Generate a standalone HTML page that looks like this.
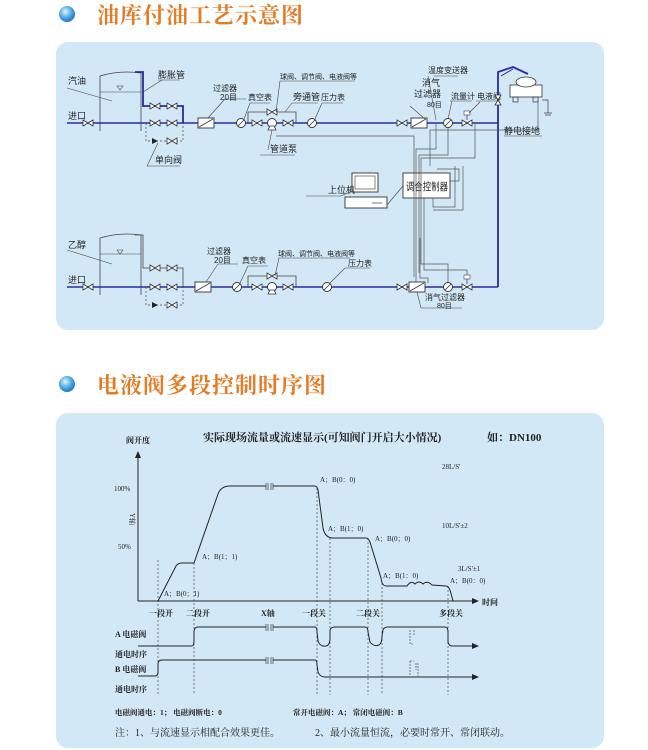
<!DOCTYPE html>
<html><head><meta charset="utf-8"><style>
html,body{margin:0;padding:0;background:#fff;}
body{width:648px;height:750px;overflow:hidden;position:relative;font-family:"Liberation Serif","Noto Serif CJK SC",serif;}
svg{position:absolute;left:0;top:0;}
</style></head><body>
<svg width="648" height="750" viewBox="0 0 648 750" xmlns="http://www.w3.org/2000/svg">
<defs>
<radialGradient id="dot" cx="40%" cy="35%" r="65%"><stop offset="0" stop-color="#e8f6ff"/><stop offset="0.5" stop-color="#5fb4ea"/><stop offset="1" stop-color="#1a78c4"/></radialGradient>
<g id="v"><path d="M-5,-3 L5,3 L5,-3 L-5,3 Z" fill="#fff" stroke="#333" stroke-width="0.8"/></g>
<g id="g"><circle r="4.5" fill="#fff" stroke="#333" stroke-width="0.9"/><line x1="-3" y1="3" x2="3" y2="-3" stroke="#333" stroke-width="0.8"/></g>
<g id="f"><rect x="-8" y="-5" width="16" height="10" fill="#fff" stroke="#333" stroke-width="0.9"/><line x1="-7" y1="4" x2="7" y2="-4" stroke="#333" stroke-width="0.8"/></g>
<g id="p"><circle r="4.5" fill="#fff" stroke="#333" stroke-width="0.9"/><path d="M-4,7 L4,7 L2,3 L-2,3 Z" fill="#fff" stroke="#333" stroke-width="0.8"/></g>
</defs>
<circle cx="67" cy="14" r="8" fill="url(#dot)"/>
<text x="97" y="23" font-size="22" font-weight="bold" fill="#e47b25" letter-spacing="1">油库付油工艺示意图</text>
<circle cx="67" cy="384" r="8" fill="url(#dot)"/>
<text x="97" y="393" font-size="22" font-weight="bold" fill="#e47b25" letter-spacing="1">电液阀多段控制时序图</text>
<rect x="56" y="42" width="548" height="288" rx="12" fill="#d3e8f7"/>
<rect x="56" y="413" width="548" height="335" rx="12" fill="#d3e8f7"/>

<g font-family="Liberation Sans, Noto Sans CJK SC, sans-serif" font-size="8" fill="#222">
<path d="M100,131 L100,76 Q120,70 141,73 L141,131" fill="none" stroke="#444" stroke-width="0.8"/>
<line x1="100" y1="92" x2="141" y2="92" stroke="#444" stroke-width="0.6"/>
<path d="M117,86 L123,86 L120,90 Z" fill="none" stroke="#444" stroke-width="0.6"/>
<line x1="67" y1="88" x2="112" y2="101" stroke="#444" stroke-width="0.6"/>
<text x="68" y="84" font-size="9">汽油</text>
<text x="68" y="119" font-size="9">进口</text>
<line x1="67" y1="123" x2="498" y2="123" stroke="#2a2aa0" stroke-width="1.6"/>
<path d="M135,72 L143,72 L143,106 L183,106 L183,123" fill="none" stroke="#2a2aa0" stroke-width="1.8"/>
<use href="#v" x="88" y="123"/><use href="#v" x="155" y="106"/><use href="#v" x="172" y="106"/>
<use href="#v" x="155" y="123"/><use href="#v" x="172" y="123"/>
<path d="M146,123 L146,141 L183,141 L183,123" fill="none" stroke="#444" stroke-width="0.7" stroke-dasharray="2,2"/>
<use href="#v" x="172" y="141"/><path d="M152,138 L158,141 L152,144 Z" fill="#222"/>
<line x1="143" y1="92" x2="162" y2="80" stroke="#444" stroke-width="0.6"/><line x1="158" y1="80" x2="180" y2="80" stroke="#444" stroke-width="0.6"/>
<text x="158" y="78" font-size="9">膨胀管</text>
<line x1="147" y1="166" x2="158" y2="143" stroke="#444" stroke-width="0.6"/><line x1="147" y1="166" x2="180" y2="166" stroke="#444" stroke-width="0.6"/>
<text x="155" y="163" font-size="9">单向阀</text>
<use href="#f" x="206" y="123"/>
<line x1="208" y1="118" x2="225" y2="99" stroke="#444" stroke-width="0.6"/><line x1="225" y1="99" x2="246" y2="99" stroke="#444" stroke-width="0.6"/>
<text x="213" y="91">过滤器</text><text x="220" y="100">20目</text>
<use href="#g" x="241" y="123"/>
<line x1="244" y1="119" x2="250" y2="103" stroke="#444" stroke-width="0.6"/><line x1="250" y1="103" x2="270" y2="103" stroke="#444" stroke-width="0.6"/>
<text x="248" y="100">真空表</text>
<path d="M248,123 L248,112 L296,112 L296,123" fill="none" stroke="#444" stroke-width="0.8"/>
<use href="#v" x="257" y="123"/><use href="#v" x="272" y="112"/><use href="#p" x="272" y="123"/><use href="#v" x="288" y="123"/>
<line x1="276" y1="112" x2="280" y2="81" stroke="#444" stroke-width="0.6"/><line x1="280" y1="81" x2="355" y2="81" stroke="#444" stroke-width="0.6"/>
<text x="280" y="79" font-size="7">球阀、调节阀、电液阀等</text>
<line x1="285" y1="112" x2="292" y2="103" stroke="#444" stroke-width="0.6"/><line x1="292" y1="103" x2="318" y2="103" stroke="#444" stroke-width="0.6"/>
<text x="293" y="100" font-size="9">旁通管</text>
<line x1="268" y1="150" x2="272" y2="130" stroke="#444" stroke-width="0.6"/><line x1="260" y1="155" x2="295" y2="155" stroke="#444" stroke-width="0.6"/>
<text x="270" y="152" font-size="9">管道泵</text>
<use href="#g" x="312" y="123"/>
<line x1="315" y1="119" x2="322" y2="103" stroke="#444" stroke-width="0.6"/><line x1="322" y1="103" x2="343" y2="103" stroke="#444" stroke-width="0.6"/>
<text x="321" y="100">压力表</text>
<use href="#v" x="402" y="123"/><use href="#f" x="419" y="123"/><use href="#g" x="448" y="123"/><use href="#v" x="467" y="123"/>
<line x1="467" y1="120" x2="467" y2="113" stroke="#444" stroke-width="0.8"/><rect x="464" y="111" width="6" height="4" fill="#fff" stroke="#444" stroke-width="0.6"/>
<line x1="425" y1="119" x2="410" y2="106" stroke="#444" stroke-width="0.6"/>
<text x="422" y="86" font-size="9">消气</text><text x="414" y="97" font-size="9">过滤器</text><text x="427" y="107" font-size="7">80目</text>
<line x1="434" y1="76" x2="458" y2="76" stroke="#444" stroke-width="0.6"/><line x1="428" y1="76" x2="436" y2="120" stroke="#444" stroke-width="0.6"/>
<text x="428" y="73">温度变送器</text>
<line x1="450" y1="101" x2="472" y2="101" stroke="#444" stroke-width="0.6"/><line x1="448" y1="119" x2="452" y2="101" stroke="#444" stroke-width="0.6"/>
<text x="451" y="99">流量计</text><text x="477" y="99">电液阀</text><line x1="476" y1="101" x2="500" y2="101" stroke="#444" stroke-width="0.6"/>
<line x1="469" y1="113" x2="480" y2="102" stroke="#444" stroke-width="0.6"/>
<path d="M498,287 L498,72 L513,67 L528,74" fill="none" stroke="#2a2aa0" stroke-width="1.8"/>
<line x1="501" y1="76" x2="513" y2="69" stroke="#2a2aa0" stroke-width="1"/>
<g transform="translate(498,100) rotate(90)"><use href="#v"/></g>
<rect x="510" y="85" width="32" height="12" fill="#fff" stroke="#333" stroke-width="0.8"/>
<ellipse cx="526" cy="82" rx="10" ry="5" fill="#fff" stroke="#333" stroke-width="0.8"/>
<rect x="513" y="97" width="5" height="5" fill="none" stroke="#333" stroke-width="0.7"/><rect x="533" y="97" width="5" height="5" fill="none" stroke="#333" stroke-width="0.7"/>
<path d="M542,100 L548,100 L548,113 M544,113 L552,113 M545,115 L551,115" fill="none" stroke="#444" stroke-width="0.7"/>
<text x="504" y="134" font-size="9">静电接地</text><line x1="504" y1="136" x2="542" y2="136" stroke="#444" stroke-width="0.6"/>
<rect x="403" y="173" width="47" height="25" fill="#fff" stroke="#333" stroke-width="0.9"/>
<text x="406" y="190" font-size="10.5" textLength="42" lengthAdjust="spacingAndGlyphs">调合控制器</text>
<rect x="352" y="173" width="26" height="19" fill="#fff" stroke="#333" stroke-width="0.9"/><rect x="355" y="176" width="20" height="13" fill="none" stroke="#333" stroke-width="0.6"/>
<rect x="345" y="197" width="42" height="11" fill="#fff" stroke="#333" stroke-width="0.9"/><line x1="372" y1="203" x2="382" y2="203" stroke="#333" stroke-width="0.7"/>
<text x="328" y="193" font-size="9">上位机</text><line x1="306" y1="196" x2="341" y2="196" stroke="#444" stroke-width="0.6"/><line x1="341" y1="196" x2="354" y2="190" stroke="#444" stroke-width="0.6"/>
<line x1="387" y1="205" x2="403" y2="186" stroke="#444" stroke-width="0.6"/>
<g fill="none" stroke="#555" stroke-width="0.7">
<path d="M276,136 L414,136 L414,277"/>
<path d="M436,123 L436,149 L416,149 L416,283"/>
<path d="M448,128 L448,155 L419,155 L419,273"/>
<path d="M475,123 L475,158 L421,158 L421,264 L448,264 L448,282"/>
<path d="M538,100 L538,130 L430,130 L430,166"/>
<path d="M455,166 L455,207 L433,207 L433,198"/>
<path d="M463,166 L463,210 L433,210"/>
<path d="M450,181 L459,181 L459,169 L437,169"/>
<path d="M420,238 L420,278 L428,278 L428,283"/>
<path d="M424,198 L424,270 L467,270 L467,280"/>
</g>
<path d="M100,295 L100,238 Q120,232 141,235 L141,295" fill="none" stroke="#444" stroke-width="0.8"/>
<line x1="100" y1="254" x2="141" y2="254" stroke="#444" stroke-width="0.6"/>
<path d="M117,250 L123,250 L120,254 Z" fill="none" stroke="#444" stroke-width="0.6"/>
<line x1="67" y1="250" x2="112" y2="264" stroke="#444" stroke-width="0.6"/>
<text x="68" y="248" font-size="9">乙醇</text>
<text x="68" y="283" font-size="9">进口</text>
<line x1="67" y1="287" x2="498" y2="287" stroke="#2a2aa0" stroke-width="1.6"/>
<path d="M135,235 L143,235 L143,268 L183,268 L183,287" fill="none" stroke="#444" stroke-width="0.8"/>
<use href="#v" x="88" y="287"/><use href="#v" x="155" y="268"/><use href="#v" x="172" y="268"/>
<use href="#v" x="155" y="287"/><use href="#v" x="172" y="287"/>
<path d="M146,287 L146,305 L183,305 L183,287" fill="none" stroke="#444" stroke-width="0.7" stroke-dasharray="2,2"/>
<use href="#v" x="172" y="305"/><path d="M152,302 L158,305 L152,308 Z" fill="#222"/>
<use href="#f" x="203" y="287"/>
<line x1="206" y1="282" x2="218" y2="264" stroke="#444" stroke-width="0.6"/><line x1="218" y1="264" x2="238" y2="264" stroke="#444" stroke-width="0.6"/>
<text x="207" y="254">过滤器</text><text x="214" y="263">20目</text>
<use href="#g" x="237" y="287"/>
<line x1="240" y1="283" x2="248" y2="266" stroke="#444" stroke-width="0.6"/><line x1="248" y1="266" x2="268" y2="266" stroke="#444" stroke-width="0.6"/>
<text x="242" y="263">真空表</text>
<path d="M248,287 L248,276 L296,276 L296,287" fill="none" stroke="#444" stroke-width="0.8"/>
<use href="#v" x="257" y="287"/><use href="#v" x="272" y="276"/><use href="#p" x="272" y="287"/><use href="#v" x="288" y="287"/>
<line x1="275" y1="276" x2="279" y2="258" stroke="#444" stroke-width="0.6"/><line x1="279" y1="258" x2="350" y2="258" stroke="#444" stroke-width="0.6"/>
<text x="278" y="256" font-size="7">球阀、调节阀、电液阀等</text>
<use href="#g" x="327" y="287"/>
<line x1="330" y1="283" x2="345" y2="268" stroke="#444" stroke-width="0.6"/><line x1="345" y1="268" x2="370" y2="268" stroke="#444" stroke-width="0.6"/>
<text x="348" y="266">压力表</text>
<use href="#v" x="402" y="287"/><use href="#f" x="417" y="287"/><use href="#g" x="448" y="287"/><use href="#v" x="467" y="287"/>
<line x1="467" y1="284" x2="467" y2="277" stroke="#444" stroke-width="0.8"/><rect x="464" y="275" width="6" height="4" fill="#fff" stroke="#444" stroke-width="0.6"/>
<line x1="417" y1="292" x2="421" y2="308" stroke="#444" stroke-width="0.6"/><line x1="421" y1="308" x2="462" y2="308" stroke="#444" stroke-width="0.6"/>
<text x="425" y="300" font-size="8">消气过滤器</text><text x="437" y="308" font-size="7">80目</text>
</g>

<g font-family="Liberation Serif, Noto Serif CJK SC, serif" fill="#222">
<text x="203" y="441" font-size="11" font-weight="bold">实际现场流量或流速显示(可知阀门开启大小情况)</text>
<text x="487" y="441" font-size="11" font-weight="bold">如：DN100</text>
<text x="126" y="443" font-size="8" font-weight="bold">阀开度</text>
<line x1="138" y1="601" x2="138" y2="457" stroke="#222" stroke-width="1"/><path d="M135,458 L138,451 L141,458 Z" fill="#222"/>
<line x1="138" y1="601" x2="473" y2="601" stroke="#222" stroke-width="1"/><path d="M472,598 L479,601 L472,604 Z" fill="#222"/>
<text x="482" y="605" font-size="8" font-weight="bold">时间</text>
<text x="114" y="491" font-size="7">100%</text><text x="118" y="549" font-size="7">50%</text>
<text x="130" y="513" font-size="7" transform="rotate(90 130 513)">Y轴</text>
<text x="442" y="469" font-size="7">28L/S'</text><text x="442" y="528" font-size="7">10L/S'±2</text><text x="458" y="571" font-size="7">3L/S'±1</text>
<path d="M158,601 L176,566 Q178,563 182,563 L194,563 L218,494 Q221,486 230,486 L266,486 M273,486 L315,486 Q317,486 318,490 L323,528 Q325,538 333,538 L366,538 Q368,538 370,542 L381,578 Q382,586 386,586 L407,586 Q411,580 415,584 Q419,580 423,584 Q427,580 432,585 L446,586 Q448,586 450,590 L453,601" fill="none" stroke="#222" stroke-width="1"/>
<path d="M266,483 L266,490 M268,483 L268,490 M271,483 L271,490 M273,483 L273,490" stroke="#222" stroke-width="0.6"/>
<g font-size="7">
<text x="164" y="596">A；B(0；1)</text>
<text x="202" y="559">A；B(1；1)</text>
<text x="320" y="482">A；B(0：0)</text>
<text x="328" y="531">A；B(1；0)</text>
<text x="375" y="541">A；B(0；0)</text>
<text x="383" y="578">A；B(1：0)</text>
<text x="450" y="583">A；B(0：0)</text>
</g>
<g stroke="#333" stroke-width="0.6" stroke-dasharray="2,2">
<line x1="158" y1="560" x2="158" y2="695"/><line x1="194" y1="563" x2="194" y2="695"/>
<line x1="317" y1="488" x2="317" y2="695"/><line x1="330" y1="538" x2="330" y2="695"/>
<line x1="368" y1="538" x2="368" y2="695"/><line x1="382" y1="583" x2="382" y2="695"/>
<line x1="448" y1="586" x2="448" y2="695"/>
</g>
<g font-size="8" font-weight="bold">
<text x="149" y="616">一段开</text><text x="186" y="616">二段开</text><text x="261" y="616">X轴</text>
<text x="302" y="616">一段关</text><text x="356" y="616">二段关</text><text x="439" y="616">多段关</text>
<text x="115" y="637">A 电磁阀</text><text x="115" y="657">通电时序</text>
<text x="115" y="672">B 电磁阀</text><text x="115" y="692">通电时序</text>
</g>
<path d="M138,646 L192,646 Q194,646 194,640 L194,632 Q194,627 198,627 L266,627 M273,627 L315,627 Q317,627 317,632 L318,641 Q320,647 326,646 Q329,646 330,640 L330,630 Q331,627 335,627 L365,627 Q368,627 368,632 L370,642 Q374,647 379,645 Q382,643 382,636 L383,630 Q384,627 388,627 L445,627 Q448,627 448,632 L448,642 Q449,646 452,646 L473,646" fill="none" stroke="#222" stroke-width="1"/>
<path d="M472,643 L479,646 L472,649 Z" fill="#222"/>
<path d="M138,676 L155,676 Q158,676 158,672 L158,664 Q158,660 162,660 L266,660 M273,660 L315,660 Q317,660 317,665 L318,672 Q320,677 325,677 L473,677" fill="none" stroke="#222" stroke-width="1"/>
<path d="M472,674 L479,677 L472,680 Z" fill="#222"/>
<path d="M266,624 L266,631 M268,624 L268,631 M271,624 L271,631 M273,624 L273,631 M266,657 L266,664 M268,657 L268,664 M271,657 L271,664 M273,657 L273,664" stroke="#222" stroke-width="0.6"/>
<path d="M410,630 L410,644 L413,644 M414,630 L414,636 M410,661 L410,676 M410,661 L414,661 M416,663 L416,670 M418,663 L418,676" stroke="#333" stroke-width="0.6" fill="none" stroke-dasharray="2,1"/>
<text x="115" y="715" font-size="7.5" font-weight="bold">电磁阀通电：1；   电磁阀断电：0</text>
<text x="293" y="715" font-size="7.5" font-weight="bold">常开电磁阀：A；   常闭电磁阀：B</text>
<text x="115" y="736" font-size="10">注：1、与流速显示相配合效果更佳。</text>
<text x="315" y="736" font-size="10">2、最小流量恒流，必要时常开、常闭联动。</text>
</g>
</svg>
</body></html>
